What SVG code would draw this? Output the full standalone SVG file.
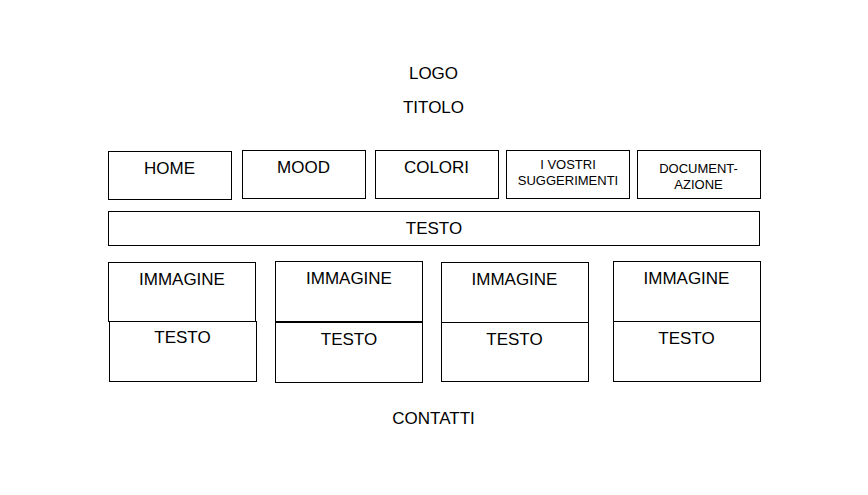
<svg xmlns="http://www.w3.org/2000/svg" width="868" height="495" viewBox="0 0 868 495">
<style>
.b{fill:#fff;stroke:#000;stroke-width:1}
.t{font-family:"Liberation Sans",Arial,sans-serif;font-size:17px;fill:#000;text-anchor:middle}
.s{font-family:"Liberation Sans",Arial,sans-serif;font-size:13px;fill:#000;text-anchor:middle}
</style>
<rect width="868" height="495" fill="#fff"/>
<g id="logo"><text class="t" x="433.5" y="79">LOGO</text></g>
<g id="titolo"><text class="t" x="433.5" y="112.5">TITOLO</text></g>
<g id="home"><rect class="b" x="108.5" y="151.5" width="123" height="48"/><text class="t" x="169.5" y="174">HOME</text></g>
<g id="mood"><rect class="b" x="242.5" y="150.5" width="123" height="48"/><text class="t" x="303.5" y="172.5">MOOD</text></g>
<g id="colori"><rect class="b" x="375.5" y="150.5" width="123" height="48"/><text class="t" x="436.5" y="172.5">COLORI</text></g>
<g id="suggerimenti"><rect class="b" x="506.5" y="150.5" width="123" height="48"/><text class="s" x="568" y="168.5">I VOSTRI</text><text class="s" x="568" y="185">SUGGERIMENTI</text></g>
<g id="documentazione"><rect class="b" x="637.5" y="150.5" width="123" height="48"/><text class="s" x="698.5" y="172.5">DOCUMENT-</text><text class="s" x="698.5" y="188.5">AZIONE</text></g>
<g id="testo"><rect class="b" x="108.5" y="211.5" width="651" height="34"/><text class="t" x="434" y="234">TESTO</text></g>
<g id="immagine1"><rect class="b" x="108.5" y="262.5" width="147" height="59"/><text class="t" x="182" y="285">IMMAGINE</text></g>
<g id="testo1"><rect class="b" x="109.5" y="321.5" width="147" height="60"/><text class="t" x="182.5" y="342.5">TESTO</text></g>
<g id="immagine2"><rect class="b" x="275.5" y="261.5" width="147" height="60.5"/><text class="t" x="349" y="283.5">IMMAGINE</text></g>
<g id="testo2"><rect class="b" x="275.5" y="322" width="147" height="60.5"/><line x1="275.5" y1="322" x2="422.5" y2="322" stroke="#000" stroke-width="2"/><text class="t" x="349" y="344.5">TESTO</text></g>
<g id="immagine3"><rect class="b" x="441.5" y="262.5" width="147" height="60"/><text class="t" x="514.5" y="284.5">IMMAGINE</text></g>
<g id="testo3"><rect class="b" x="441.5" y="322.5" width="147" height="59"/><text class="t" x="514.5" y="344.5">TESTO</text></g>
<g id="immagine4"><rect class="b" x="613.5" y="261.5" width="147" height="60"/><text class="t" x="686.5" y="283.5">IMMAGINE</text></g>
<g id="testo4"><rect class="b" x="613.5" y="321.5" width="147" height="60"/><text class="t" x="686.5" y="344">TESTO</text></g>
<g id="contatti"><text class="t" x="433.5" y="424">CONTATTI</text></g>
<g id="connectors"/>
</svg>
